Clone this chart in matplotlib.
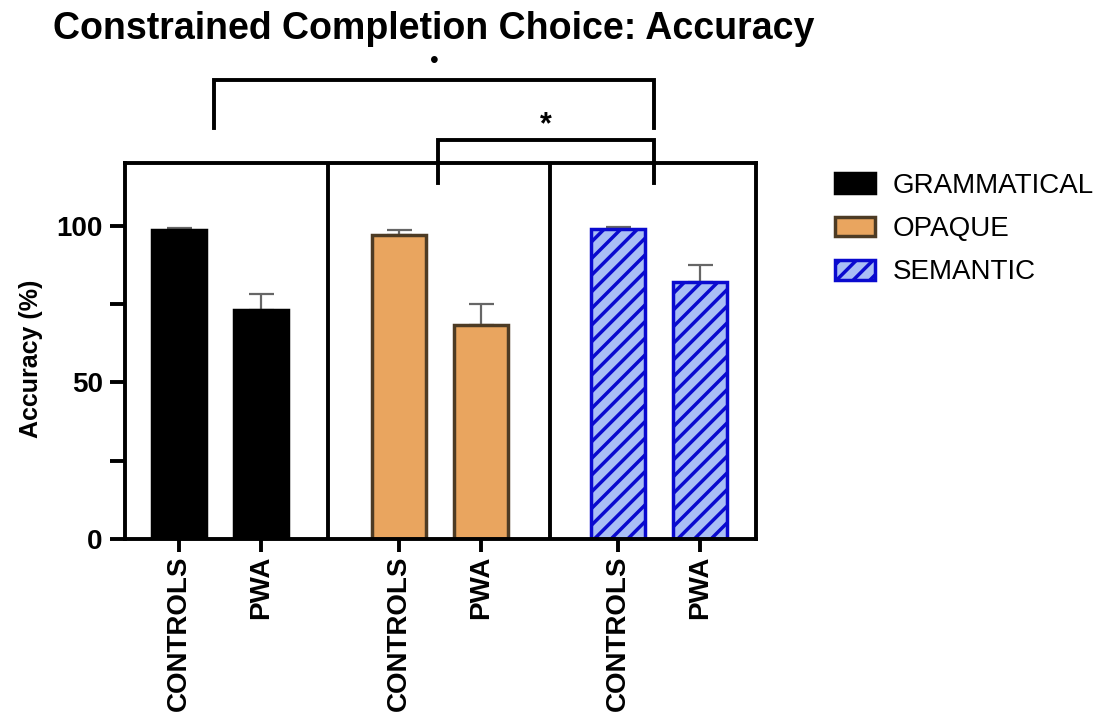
import numpy as np
import matplotlib
matplotlib.use("Agg")
import matplotlib.pyplot as plt
from matplotlib.patches import Patch

plt.rcParams['font.family'] = ['Liberation Sans', 'DejaVu Sans']
plt.rcParams['hatch.linewidth'] = 2.5

# data
conditions = ["GRAMMATICAL", "OPAQUE", "SEMANTIC"]
groups = ["CONTROLS", "PWA"]
accuracy = {
    "GRAMMATICAL": [98.7, 73.2],
    "OPAQUE": [97.1, 68.4],
    "SEMANTIC": [99.0, 82.0],
}
sem = {
    "GRAMMATICAL": [0.5, 5.1],
    "OPAQUE": [1.6, 6.7],
    "SEMANTIC": [0.7, 5.5],
}

face = {"GRAMMATICAL": "black", "OPAQUE": "#E9A55F", "SEMANTIC": "#A9BEF5"}
edge = {"GRAMMATICAL": "black", "OPAQUE": "#4D3B24", "SEMANTIC": "#0A0ACF"}
hatch = {"GRAMMATICAL": None, "OPAQUE": None, "SEMANTIC": "//"}

fig = plt.figure(figsize=(11.1, 7.22), dpi=100)
ax = fig.add_axes([0.1126, 0.2535, 0.5685, 0.5205])

group_step = 2.68
bar_w = 0.66
positions = []
labels = []
for i, cond in enumerate(conditions):
    x = i * group_step + np.arange(len(groups))
    positions.extend(x)
    labels.extend(groups)
    ax.errorbar(x, accuracy[cond], yerr=[np.zeros(len(groups)), sem[cond]],
                fmt='none', ecolor='#666666', elinewidth=1.6, capsize=9,
                capthick=1.6, zorder=1)
    ax.bar(x, accuracy[cond], width=bar_w, color=face[cond],
           edgecolor=edge[cond], linewidth=2.5, hatch=hatch[cond], zorder=2)

# panel dividers
for d in [1.82, 4.52]:
    ax.axvline(d, color='black', lw=2.8, zorder=3)

ax.set_xlim(-0.66, 7.04)
ax.set_ylim(0, 120)
ax.set_xticks(positions)
ax.set_xticklabels(labels, rotation=90, fontsize=20, fontweight='bold')
ax.set_yticks([0, 25, 50, 75, 100])
ax.set_yticklabels(["0", "", "50", "", "100"], fontsize=20, fontweight='bold')
ax.tick_params(axis='y', length=11, width=2.8, pad=5)
ax.tick_params(axis='x', length=9, width=2.8, pad=3)
for s in ax.spines.values():
    s.set_linewidth(2.8)

ax.set_ylabel("Accuracy (%)", fontsize=18, fontweight='bold')
ax.yaxis.set_label_coords(-0.13, 0.48)

# significance brackets
c1 = 0.43
c2 = 3.16
c3 = 5.80
ax.plot([c1, c1, c3, c3], [131.3, 146.6, 146.6, 131.3], color='black',
        lw=2.8, clip_on=False, solid_joinstyle='miter')
ax.plot([c2, c2, c3, c3], [113.7, 127.5, 127.5, 113.7], color='black',
        lw=2.8, clip_on=False, solid_joinstyle='miter')
ax.text((c1 + c3) / 2, 152.5, "•", ha='center', va='center', fontsize=18,
        clip_on=False)
ax.text((c2 + c3) / 2, 132.0, "*", ha='center', va='center', fontsize=22,
        fontweight='bold', clip_on=False)

fig.text(53 / 1110, 1 - 39 / 722, "Constrained Completion Choice: Accuracy",
         fontsize=27, fontweight='bold', ha='left', va='baseline')

handles = [Patch(facecolor=face[c], edgecolor=edge[c], hatch=hatch[c],
                 linewidth=2.5) for c in conditions]
fig.legend(handles, conditions, loc='upper left',
           bbox_to_anchor=(835 / 1110, 1 - 173 / 722), frameon=False,
           fontsize=20, handlelength=1.44, handleheight=0.72,
           handletextpad=0.65, labelspacing=0.62, borderpad=0,
           borderaxespad=0)

fig.savefig("out.png", dpi=100)
